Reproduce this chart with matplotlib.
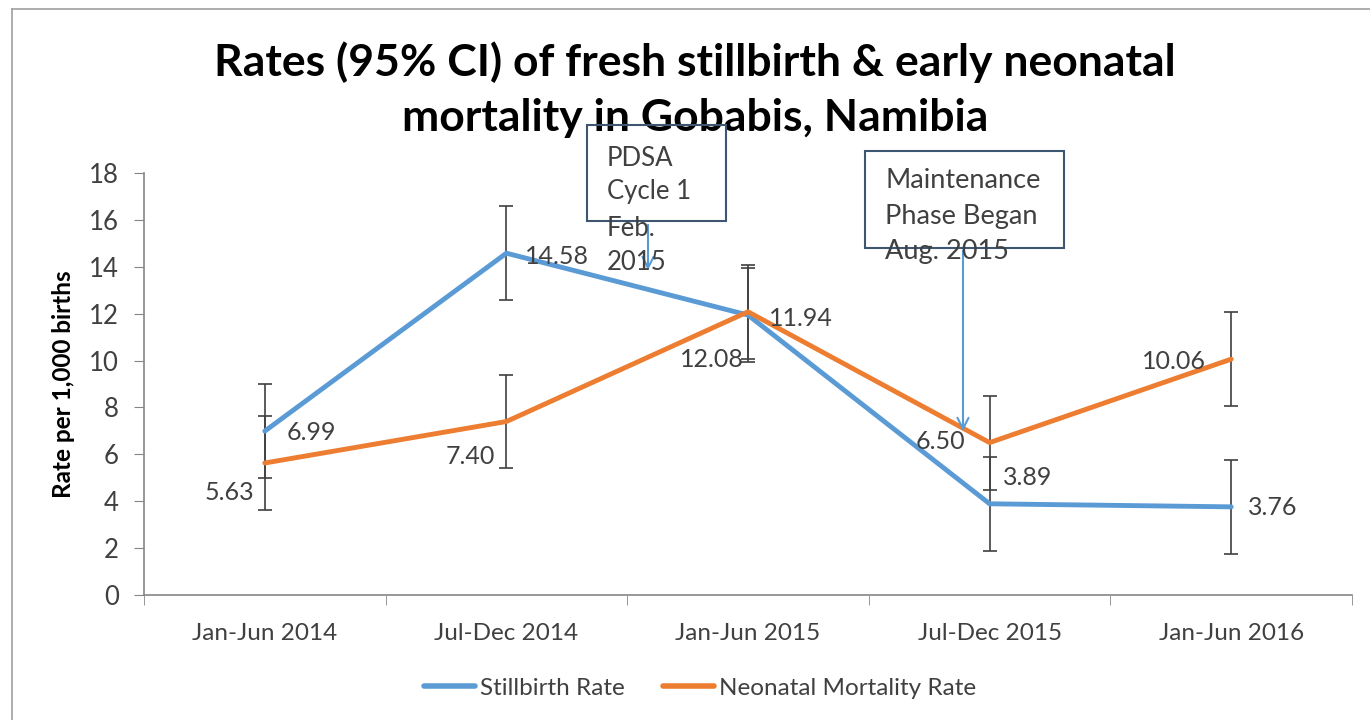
import matplotlib
matplotlib.use("Agg")
import matplotlib.pyplot as plt
from matplotlib.patches import Rectangle
from matplotlib.lines import Line2D

categories = ["Jan-Jun 2014", "Jul-Dec 2014", "Jan-Jun 2015", "Jul-Dec 2015", "Jan-Jun 2016"]
stillbirth = [6.99, 14.58, 11.94, 3.89, 3.76]
neonatal = [5.63, 7.40, 12.08, 6.50, 10.06]
ci_half = [2, 2, 2, 2, 2]
stillbirth_labels = ["6.99", "14.58", "11.94", "3.89", "3.76"]
neonatal_labels = ["5.63", "7.40", "12.08", "6.50", "10.06"]

FONT = ["Lato", "DejaVu Sans"]
plt.rcParams['font.family'] = FONT

BLUE = "#5B9BD5"
ORANGE = "#ED7D31"
DARK = "#404040"
TEXT = "#404040"

W, H = 1370, 720
fig = plt.figure(figsize=(W / 100, H / 100), dpi=100)

def fx(px):
    return px / W

def fy(py):
    return 1 - py / H

# outer chart frame (top and left edges visible)
fig.add_artist(Line2D([fx(12), 1.0], [fy(9), fy(9)], color="#A0A0A0", lw=1.2, transform=fig.transFigure))
fig.add_artist(Line2D([fx(12), fx(12)], [fy(9), 0.0], color="#A0A0A0", lw=1.2, transform=fig.transFigure))

ax = fig.add_axes([fx(144), fy(595), fx(1352) - fx(144), fy(173) - fy(595)])
x = list(range(len(categories)))

ax.errorbar(x, stillbirth, yerr=ci_half, fmt="none", ecolor=DARK, elinewidth=1.2, capsize=5, capthick=1.2, zorder=2)
ax.errorbar(x, neonatal, yerr=ci_half, fmt="none", ecolor=DARK, elinewidth=1.2, capsize=5, capthick=1.2, zorder=2)
ax.plot(x, stillbirth, color=BLUE, lw=3.5, solid_joinstyle="round", solid_capstyle="round", zorder=3, label="Stillbirth Rate")
ax.plot(x, neonatal, color=ORANGE, lw=3.5, solid_joinstyle="round", solid_capstyle="round", zorder=3, label="Neonatal Mortality Rate")

sb_off = [(47, -1), (51, -3), (53, -3), (38, 26), (42, -1)]
nn_off = [(-35, -29), (-36, -35), (-36, -48), (-49, 1), (-57, -2)]
for i in x:
    ax.annotate(stillbirth_labels[i], (i, stillbirth[i]), xytext=sb_off[i], textcoords="offset pixels",
                ha="center", va="center", fontsize=18, color=TEXT, zorder=5)
    ax.annotate(neonatal_labels[i], (i, neonatal[i]), xytext=nn_off[i], textcoords="offset pixels",
                ha="center", va="center", fontsize=18, color=TEXT, zorder=5)

ax.set_xlim(-0.5, len(categories) - 0.5)
ax.set_ylim(0, 18)
ax.set_yticks(range(0, 19, 2))
ax.set_xticks(x)
ax.set_xticklabels(categories)
ax.set_xticks([i - 0.5 for i in range(len(categories) + 1)], minor=True)
ax.tick_params(axis="x", which="major", length=0, pad=20, labelsize=17.5, labelcolor=TEXT)
ax.tick_params(axis="x", which="minor", length=7, color="#868686", direction="out")
ax.tick_params(axis="y", length=7, color="#868686", labelsize=18.5, labelcolor=TEXT, pad=11)
for s in ["top", "right"]:
    ax.spines[s].set_visible(False)
for s in ["left", "bottom"]:
    ax.spines[s].set_color("#868686")
    ax.spines[s].set_linewidth(1.2)
ax.set_facecolor("none")

fig.text(fx(64), fy(384), "Rate per 1,000 births", rotation=90, ha="center", va="center",
         fontsize=17.5, fontweight="bold", color="black")

fig.text(fx(695), fy(62), "Rates (95% CI) of fresh stillbirth & early neonatal", ha="center", va="center",
         fontsize=32, fontweight="bold", color="black")
fig.text(fx(695), fy(118), "mortality in Gobabis, Namibia", ha="center", va="center",
         fontsize=32, fontweight="bold", color="black")

# annotation boxes
fig.add_artist(Rectangle((fx(587), fy(221)), fx(726) - fx(587), fy(125) - fy(221), fill=False,
                         edgecolor="#3F5673", lw=1.5, transform=fig.transFigure, zorder=6))
for t, py in zip(["PDSA", "Cycle 1", "Feb.", "2015"], [158, 192, 228, 263]):
    fig.text(fx(607), fy(py), t, ha="left", va="center", fontsize=18.5, color=TEXT, zorder=7)
ax.annotate("", xy=(fx(648), fy(273)), xytext=(fx(648), fy(222)), xycoords="figure fraction",
            textcoords="figure fraction",
            arrowprops=dict(arrowstyle="->,head_length=0.8,head_width=0.4", color=BLUE, lw=1.5), zorder=7)

fig.add_artist(Rectangle((fx(865), fy(248)), fx(1064) - fx(865), fy(151) - fy(248), fill=False,
                         edgecolor="#3F5673", lw=1.5, transform=fig.transFigure, zorder=6))
for t, py in zip(["Maintenance", "Phase Began", "Aug. 2015"], [181, 216, 251]):
    fig.text(fx(885), fy(py), t, ha="left", va="center", fontsize=19.5, color=TEXT, zorder=7)
ax.annotate("", xy=(fx(963), fy(434)), xytext=(fx(963), fy(248)), xycoords="figure fraction",
            textcoords="figure fraction",
            arrowprops=dict(arrowstyle="->,head_length=0.8,head_width=0.4", color=BLUE, lw=1.5), zorder=7)

leg = fig.legend(loc="center", bbox_to_anchor=(fx(700), fy(688)),
                 ncol=2, frameon=False, fontsize=17.5, handlelength=2.1, handletextpad=0.2, columnspacing=1.6,
                 labelcolor=TEXT)
for h in leg.legend_handles:
    h.set_linewidth(4)

fig.savefig("out.png", dpi=100)
